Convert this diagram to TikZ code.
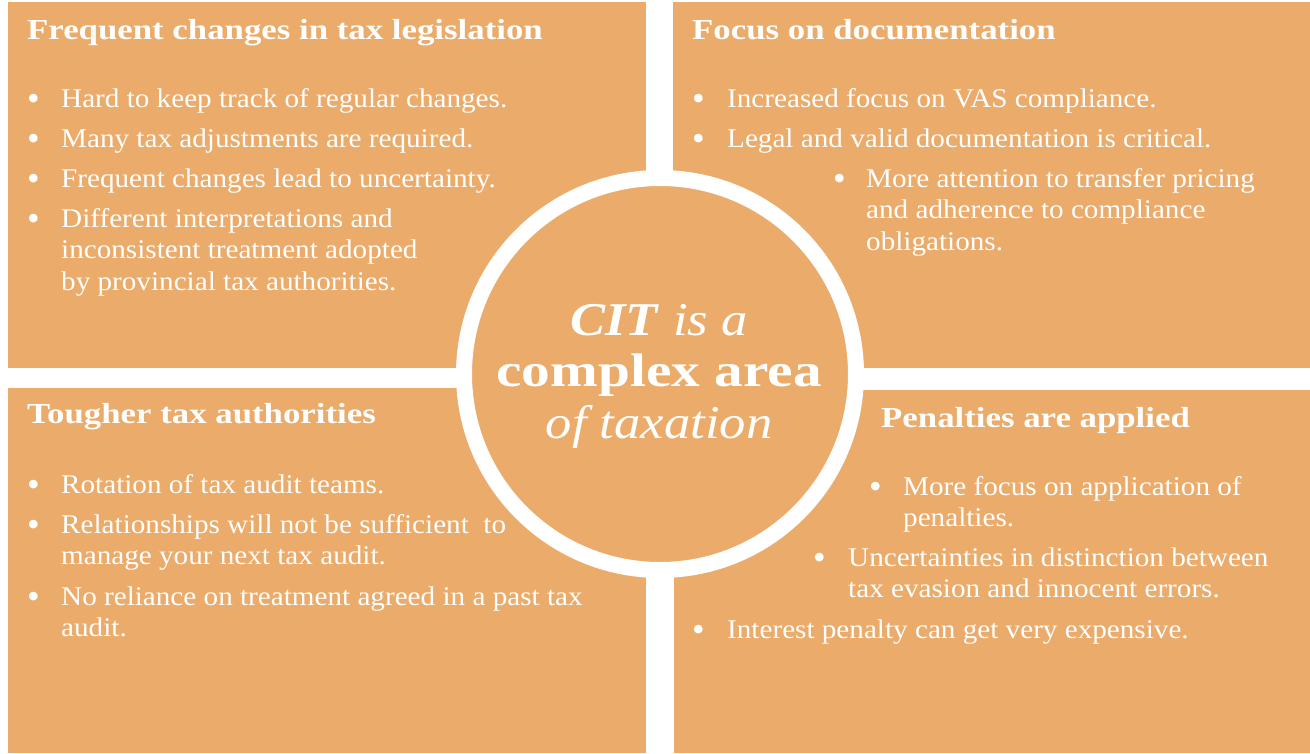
\documentclass[tikz,border=0pt]{standalone}
\usepackage{fontspec}
\setmainfont{Liberation Serif}
\newfontfamily\bodyf{Liberation Serif}[FakeStretch=1.08]
\newfontfamily\headf{Liberation Serif}[FakeStretch=1.2]
\newfontfamily\hubf{Liberation Serif}[FakeStretch=1.12]
\newfontfamily\hubb{Liberation Serif}[FakeStretch=1.22]
\definecolor{tax}{HTML}{EBAB6A}
\tikzset{
  panel/.style={fill=tax, draw=none, anchor=north west, inner sep=0pt, outer sep=0pt},
  ttl/.style={anchor=base west, text=white, inner sep=0pt, font=\headf\fontsize{29}{32}\selectfont\bfseries},
  itm/.style={anchor=base west, text=white, inner sep=0pt, align=left, font=\bodyf\fontsize{27}{31.5}\selectfont},
  dot/.style={anchor=base west, text=white, inner sep=0pt, yshift=-3pt, font=\fontsize{36}{38}\selectfont},
  hub/.style={circle, fill=tax, draw=white, line width=16pt, minimum size=392pt, inner sep=0pt},
  hubtxt/.style={anchor=base, text=white, inner sep=0pt, align=center, font=\hubf\fontsize{47}{51.5}\selectfont},
}
\begin{document}
\begin{tikzpicture}[x=1pt, y=-1pt]
\useasboundingbox (0,0) rectangle (1310,753);
\fill[white] (0,0) rectangle (1310,753);
% panels
\node[panel, minimum width=638pt, minimum height=366pt] (tl) at (8,2) {};
\node[panel, minimum width=637pt, minimum height=366pt] (tr) at (673,2) {};
\node[panel, minimum width=638pt, minimum height=365pt] (bl) at (8,388) {};
\node[panel, minimum width=636pt, minimum height=363pt] (br) at (674,390) {};
% centre circle (base anchor = last line)
\node[hub] (hubc) at (660,374) {};
\node[hubtxt] (hubt) at (659,438) {\textbf{\textit{CIT}} \textit{is a}\\ {\hubb\bfseries complex area}\\ \textit{of taxation}};
% top left
\node[ttl] (tlt) at (27,39) {Frequent changes in tax legislation};
\node[dot] (tld1) at (27,107) {•};
\node[itm] (tli1) at (61,107) {Hard to keep track of regular changes.};
\node[dot] (tld2) at (27,147) {•};
\node[itm] (tli2) at (61,147) {Many tax adjustments are required.};
\node[dot] (tld3) at (27,187) {•};
\node[itm] (tli3) at (61,187) {Frequent changes lead to uncertainty.};
\node[dot] (tld4) at (27,227) {•};
\node[itm] (tli4) at (61,290) {Different interpretations and\\inconsistent treatment adopted\\by provincial tax authorities.};
% top right
\node[ttl] (trt) at (692,39) {Focus on documentation};
\node[dot] (trd1) at (692,107) {•};
\node[itm] (tri1) at (727,107) {Increased focus on VAS compliance.};
\node[dot] (trd2) at (692,147) {•};
\node[itm] (tri2) at (727,147) {Legal and valid documentation is critical.};
\node[dot] (trd3) at (833,187) {•};
\node[itm] (tri3) at (866,250) {More attention to transfer pricing\\and adherence to compliance\\obligations.};
% bottom left
\node[ttl] (blt) at (27,423) {Tougher tax authorities};
\node[dot] (bld1) at (27,493) {•};
\node[itm] (bli1) at (61,493) {Rotation of tax audit teams.};
\node[dot] (bld2) at (27,533) {•};
\node[itm] (bli2) at (61,564.5) {Relationships will not be sufficient\ \ to\\manage your next tax audit.};
\node[dot] (bld3) at (27,605) {•};
\node[itm] (bli3) at (61,636.5) {No reliance on treatment agreed in a past tax\\audit.};
% bottom right
\node[ttl] (brt) at (881,427) {Penalties are applied};
\node[dot] (brd1) at (869,495) {•};
\node[itm] (bri1) at (903,526.5) {More focus on application of\\penalties.};
\node[dot] (brd2) at (813,566) {•};
\node[itm] (bri2) at (848,597.5) {Uncertainties in distinction between\\tax evasion and innocent errors.};
\node[dot] (brd3) at (692,638) {•};
\node[itm] (bri3) at (727,638) {Interest penalty can get very expensive.};
\end{tikzpicture}
\end{document}
